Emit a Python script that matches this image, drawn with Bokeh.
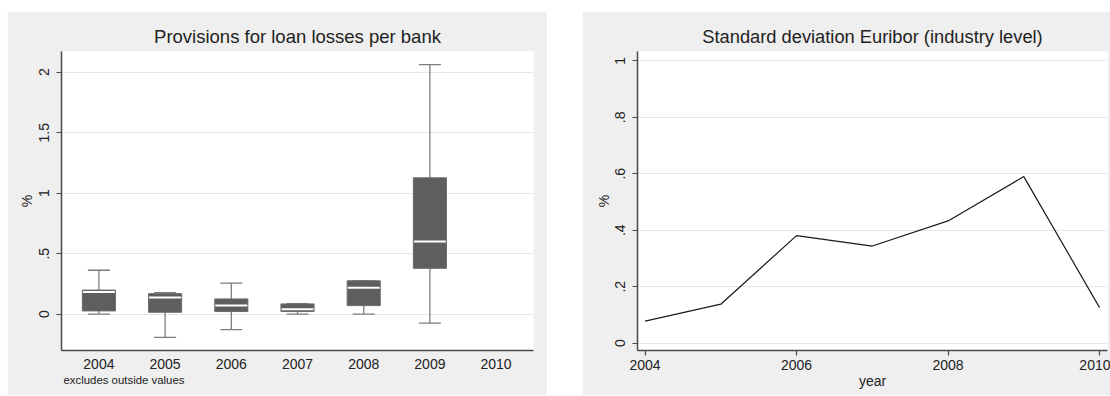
from bokeh.plotting import figure
from bokeh.models import FixedTicker, CustomJSTickFormatter, Title, Range1d, Spacer
from bokeh.layouts import row, column
from bokeh.embed import file_html
from bokeh.resources import INLINE

# ---- data: provisions for loan losses per bank (box plot stats, %) ----
box_years = [2004, 2005, 2006, 2007, 2008, 2009]
lower_whisker = [0.0, -0.191, -0.128, 0.0, 0.0, -0.074]
q1 = [0.027, 0.016, 0.022, 0.022, 0.071, 0.379]
median = [0.183, 0.137, 0.071, 0.041, 0.218, 0.600]
q3 = [0.199, 0.170, 0.126, 0.085, 0.276, 1.127]
upper_whisker = [0.363, 0.178, 0.257, 0.088, 0.276, 2.062]
left_x_ticks = [2004, 2005, 2006, 2007, 2008, 2009, 2010]
left_y_ticks = [0, 0.5, 1, 1.5, 2]

# ---- data: standard deviation Euribor (industry level, %) ----
sd_years = [2004, 2005, 2006, 2007, 2008, 2009, 2010]
sd_values = [0.078, 0.138, 0.381, 0.344, 0.433, 0.590, 0.126]
right_x_ticks = [2004, 2006, 2008, 2010]
right_y_ticks = [0, 0.2, 0.4, 0.6, 0.8, 1.0]

FONT = "Liberation Sans"
BG = "#efefef"
AXIS = "#4a4a4a"
TXT = "#222222"
GRID = "#e6e6e6"

fmt = CustomJSTickFormatter(code="return String(tick).replace(/^0\\./, '.').replace(/^-0\\./, '-.');")


def style(p, title_size):
    p.background_fill_color = "white"
    p.border_fill_color = BG
    p.outline_line_color = None
    p.xgrid.grid_line_color = None
    p.ygrid.grid_line_color = GRID
    p.ygrid.grid_line_width = 1
    for ax in (p.xaxis[0], p.yaxis[0]):
        ax.axis_line_color = AXIS
        ax.axis_line_width = 1.5
        ax.major_tick_line_color = AXIS
        ax.major_tick_line_width = 1.2
        ax.minor_tick_line_color = None
        ax.major_tick_in = 0
        ax.major_tick_out = 5
        ax.major_label_text_font = FONT
        ax.major_label_text_font_size = "14px"
        ax.major_label_text_color = TXT
        ax.axis_label_text_font = FONT
        ax.axis_label_text_font_size = "14px"
        ax.axis_label_text_font_style = "normal"
        ax.axis_label_text_color = TXT
    p.yaxis[0].major_label_orientation = "vertical"
    p.yaxis[0].formatter = fmt
    p.title.align = "center"
    p.title.text_font = FONT
    p.title.text_font_size = title_size
    p.title.text_font_style = "normal"
    p.title.text_color = TXT
    p.title.standoff = 9


# ---------------- left: box plot ----------------
p1 = figure(width=540, height=384, output_backend="svg", toolbar_location=None,
            x_range=Range1d(2003.435, 2010.565), y_range=Range1d(-0.300, 2.171),
            min_border_left=54, min_border_right=14, min_border_top=40, min_border_bottom=42,
            title="Provisions for loan losses per bank")
style(p1, "18.5px")
p1.xaxis.ticker = FixedTicker(ticks=left_x_ticks)
p1.xaxis.major_tick_out = 0
p1.xaxis.major_label_standoff = 8
p1.yaxis.ticker = FixedTicker(ticks=left_y_ticks)
p1.yaxis.axis_label = "%"
p1.yaxis.major_label_standoff = 7
p1.yaxis.axis_label_standoff = 2

WHISK = "#7d7d7d"
BOX = "#5e5e5e"
p1.segment(x0=box_years, y0=q3, x1=box_years, y1=upper_whisker, line_color=WHISK, line_width=1.3)
p1.segment(x0=box_years, y0=lower_whisker, x1=box_years, y1=q1, line_color=WHISK, line_width=1.3)
p1.scatter(x=box_years, y=upper_whisker, marker="dash", size=22, line_color=WHISK, line_width=1.3)
p1.scatter(x=box_years, y=lower_whisker, marker="dash", size=22, line_color=WHISK, line_width=1.3)
p1.vbar(x=box_years, bottom=q1, top=q3, width=0.5, fill_color=BOX, line_color="#6a6a6a", line_width=1)
p1.scatter(x=box_years, y=median, marker="dash", size=32, line_color="white", line_width=2)

note = Title(text="excludes outside values", align="left", text_font=FONT,
             text_font_size="11.4px", text_font_style="normal", text_color=TXT, offset=2, standoff=0)
p1.add_layout(note, "below")

# ---------------- right: line ----------------
p2 = figure(width=528, height=384, output_backend="svg", toolbar_location=None,
            x_range=Range1d(2003.90, 2010.105), y_range=Range1d(-0.026, 1.033),
            min_border_left=55, min_border_right=3, min_border_top=39, min_border_bottom=45,
            title="Standard deviation Euribor (industry level)")
style(p2, "18.3px")
p2.xaxis.ticker = FixedTicker(ticks=right_x_ticks)
p2.xaxis.major_label_standoff = 4
p2.xaxis.axis_label = "year"
p2.xaxis.axis_label_standoff = 0
p2.yaxis.ticker = FixedTicker(ticks=right_y_ticks)
p2.yaxis.axis_label = "%"
p2.yaxis.major_label_standoff = 7
p2.yaxis.axis_label_standoff = 1

p2.line(x=sd_years, y=sd_values, line_color="#1a1a1a", line_width=1.2)

layout = column(Spacer(height=11),
                row(Spacer(width=7), p1, Spacer(width=35), p2))

open("out.html", "w").write(file_html(layout, INLINE))
